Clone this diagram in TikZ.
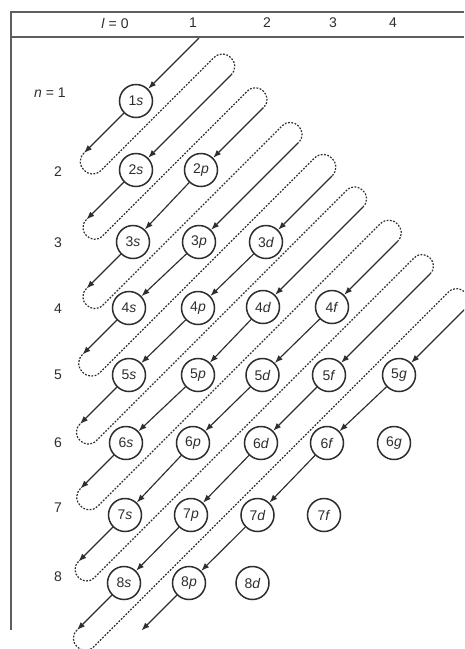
\documentclass[tikz,border=0pt]{standalone}
\usepackage{fontspec}
\setmainfont{Liberation Sans}
\usetikzlibrary{arrows.meta}
\definecolor{ink}{HTML}{2E2E2E}
\definecolor{framegray}{HTML}{5E5E5E}
\begin{document}
\begin{tikzpicture}[x=1pt,y=-1pt,
  orb/.style={circle,draw=ink,line width=1.5pt,minimum size=33pt,inner sep=0pt,font=\fontsize{14}{14}\selectfont,text=ink},
  lab/.style={font=\fontsize{14}{14}\selectfont,text=ink,inner sep=0pt},
  arr/.style={-{Latex[length=8pt,width=6pt]},line width=1.15pt,draw=ink},
  dotline/.style={line width=1.2pt,draw=ink,dash pattern=on 1.8pt off 1.5pt},
  rule/.style={line width=2.4pt,draw=framegray}]
\fill[white] (0,0) rectangle (464,649);
\useasboundingbox (0,0) rectangle (464,649);
% frame
\draw[rule] (11,12) -- (464,12);
\draw[rule] (11,11) -- (11,630);
\draw[rule] (11,37) -- (464,37);
\begin{scope}
\clip (0,0) rectangle (464,649);
% header labels
\node[lab] (hl0) at (115,23) {\textit{l} = 0};
\node[lab] (hl1) at (193,23) {1};
\node[lab] (hl2) at (267,23) {2};
\node[lab] (hl3) at (333,23) {3};
\node[lab] (hl4) at (393,23) {4};
% row labels
\node[lab] (rn1) at (50,93) {\textit{n} = 1};
\node[lab] (rn2) at (58,172) {2};
\node[lab] (rn3) at (58,243) {3};
\node[lab] (rn4) at (58,309) {4};
\node[lab] (rn5) at (58,375) {5};
\node[lab] (rn6) at (58,443) {6};
\node[lab] (rn7) at (58,508) {7};
\node[lab] (rn8) at (58,577) {8};
% orbitals
\node[orb] (c1s) at (136,101) {1\textit{s}};
\node[orb] (c2s) at (136,170) {2\textit{s}};
\node[orb] (c2p) at (201,170) {2\textit{p}};
\node[orb] (c3s) at (133,242) {3\textit{s}};
\node[orb] (c3p) at (199,242) {3\textit{p}};
\node[orb] (c3d) at (266,242) {3\textit{d}};
\node[orb] (c4s) at (129,308) {4\textit{s}};
\node[orb] (c4p) at (198,308) {4\textit{p}};
\node[orb] (c4d) at (263,307) {4\textit{d}};
\node[orb] (c4f) at (332,307) {4\textit{f}};
\node[orb] (c5s) at (129,375) {5\textit{s}};
\node[orb] (c5p) at (198,375) {5\textit{p}};
\node[orb] (c5d) at (262.5,375) {5\textit{d}};
\node[orb] (c5f) at (329,375) {5\textit{f}};
\node[orb] (c5g) at (399,375) {5\textit{g}};
\node[orb] (c6s) at (126,443) {6\textit{s}};
\node[orb] (c6p) at (193,443) {6\textit{p}};
\node[orb] (c6d) at (261,443) {6\textit{d}};
\node[orb] (c6f) at (327,443) {6\textit{f}};
\node[orb] (c6g) at (394,443) {6\textit{g}};
\node[orb] (c7s) at (125,515) {7\textit{s}};
\node[orb] (c7p) at (191,515) {7\textit{p}};
\node[orb] (c7d) at (257.5,515) {7\textit{d}};
\node[orb] (c7f) at (324,515) {7\textit{f}};
\node[orb] (c8s) at (124,583) {8\textit{s}};
\node[orb] (c8p) at (189,583) {8\textit{p}};
\node[orb] (c8d) at (252.5,583) {8\textit{d}};
% top entry arrow
\coordinate (h0) at (199,38);
\draw[arr] (h0) -- (c1s);
% diagonal chains
\draw[arr] (c2p) -- (c3s);
\draw[arr] (c3p) -- (c4s);
\draw[arr] (c3d) -- (c4p);
\draw[arr] (c4p) -- (c5s);
\draw[arr] (c4d) -- (c5p);
\draw[arr] (c5p) -- (c6s);
\draw[arr] (c4f) -- (c5d);
\draw[arr] (c5d) -- (c6p);
\draw[arr] (c6p) -- (c7s);
\draw[arr] (c5f) -- (c6d);
\draw[arr] (c6d) -- (c7p);
\draw[arr] (c7p) -- (c8s);
\draw[arr] (c5g) -- (c6f);
\draw[arr] (c6f) -- (c7d);
\draw[arr] (c7d) -- (c8p);
% loops, drawn in diagonal (c,u) coordinates
\begin{scope}[x={(0.5pt,-0.5pt)},y={(0.5pt,0.5pt)}]
\coordinate (tip9) at (772,-489);
\draw[arr] (c8p) -- (tip9);
\foreach \cm/\ut/\cn/\fn/\sn in {237/-69/306/c2s/c1s, 306/-133/371/c2p/c2s,
   375/-202/441/c3p/c3s, 437/-272/508/c3d/c4s, 504/-344/570/c4d/c5s,
   569/-408/639/c4f/c6s, 640/-483/704/c5f/c7s, 707/-553/774/c5g/c8s}{
  \pgfmathsetmacro\cd{(\cm+\cn)/2}
  \pgfmathsetmacro\kk{(\cn-\cm)/3}
  \pgfmathsetmacro\ub{\ut-\kk}
  \pgfmathsetmacro\uc{156+\kk}
  \coordinate (tip\sn) at (\cm,\ut);
  \coordinate (top\fn) at (\cn,156);
  \draw[arr] (\sn) -- (tip\sn);
  \draw[dotline] (tip\sn) .. controls (\cm,\ub) and (\cd,\ub) .. (\cd,\ut)
     -- (\cd,156) .. controls (\cd,\uc) and (\cn,\uc) .. (top\fn);
  \draw[arr] (top\fn) -- (\fn);
}
\end{scope}
\end{scope}
\end{tikzpicture}
\end{document}
